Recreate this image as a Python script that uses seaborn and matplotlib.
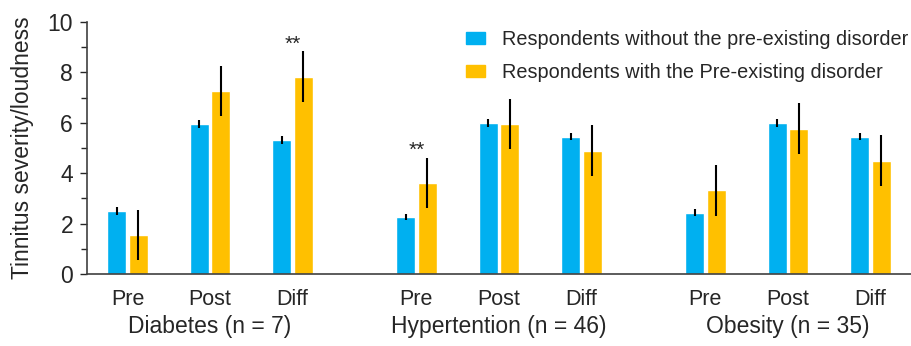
import numpy as np
import pandas as pd
import matplotlib
matplotlib.use("Agg")
import matplotlib.pyplot as plt
import seaborn as sns
from matplotlib.ticker import MultipleLocator
from matplotlib.transforms import blended_transform_factory

# values
groups = ["Diabetes (n = 7)", "Hypertention (n = 46)", "Obesity (n = 35)"]
phases = ["Pre", "Post", "Diff"]
series = ["Respondents without the pre-existing disorder",
          "Respondents with the Pre-existing disorder"]
without_vals = [2.50, 5.95, 5.32, 2.27, 6.00, 5.45, 2.43, 6.00, 5.45]
with_vals = [1.55, 7.26, 7.83, 3.60, 5.95, 4.90, 3.32, 5.77, 4.50]
without_err = [0.15, 0.17, 0.15, 0.12, 0.15, 0.15, 0.13, 0.15, 0.15]
with_err = [1.00, 1.00, 1.00, 1.00, 1.00, 1.00, 1.00, 1.00, 1.00]
stars = [(0, "Diff"), (1, "Pre")]  # (group index, phase)

colors = ["#00B0F0", "#FFC000"]
group_step = 3.5

rows = []
for gi, g in enumerate(groups):
    for pi, p in enumerate(phases):
        k = gi * 3 + pi
        pos = gi * group_step + pi
        rows.append(dict(pos=pos, group=g, phase=p, series=series[0],
                         value=without_vals[k], err=without_err[k]))
        rows.append(dict(pos=pos, group=g, phase=p, series=series[1],
                         value=with_vals[k], err=with_err[k]))
df = pd.DataFrame(rows)

sns.set_style("ticks")
plt.rcParams["font.family"] = ["Liberation Sans", "DejaVu Sans"]

fig = plt.figure(figsize=(9.11, 3.46), dpi=100)
ax = fig.add_axes([87 / 911, 1 - 274 / 346, 824 / 911, 252 / 346])

sns.barplot(data=df, x="pos", y="value", hue="series", hue_order=series,
            native_scale=True, width=0.52, gap=0.12, palette=colors,
            errorbar=None, saturation=1, ax=ax)

for cont, s in zip(ax.containers, series):
    sub = df[df["series"] == s].sort_values("pos")
    for bar, (_, r) in zip(cont, sub.iterrows()):
        ax.errorbar(bar.get_x() + bar.get_width() / 2, r["value"], yerr=r["err"],
                    fmt="none", ecolor="black", elinewidth=1.5, capsize=0)

ax.set_xlim(-0.49, 9.49)
ax.set_ylim(0, 10)
ticks = sorted(df["pos"].unique())
ax.set_xticks(ticks)
ax.set_xticklabels(phases * len(groups), fontsize=15.5)
ax.tick_params(axis="x", length=0, pad=11)
ax.yaxis.set_major_locator(MultipleLocator(2))
ax.yaxis.set_minor_locator(MultipleLocator(1))
ax.tick_params(axis="y", which="major", length=5, width=1, labelsize=16.5, pad=5)
ax.tick_params(axis="y", which="minor", length=4, width=1)
ax.set_xlabel("")
ax.set_ylabel("Tinnitus severity/loudness", fontsize=16.5, labelpad=10)
sns.despine(ax=ax)
for sp in ["left", "bottom"]:
    ax.spines[sp].set_color("#404040")
    ax.spines[sp].set_linewidth(1.2)

trans = blended_transform_factory(ax.transData, ax.transAxes)
for gi, g in enumerate(groups):
    ax.text(gi * group_step + 1, -0.21, g, transform=trans,
            ha="center", va="center", fontsize=16.5)

for gi, p in stars:
    k = gi * 3 + phases.index(p)
    top = max(without_vals[k] + without_err[k], with_vals[k] + with_err[k])
    ax.text(gi * group_step + phases.index(p), top + 0.3, "**",
            ha="center", va="center", fontsize=15)

ax.legend_.remove()
handles = [plt.Rectangle((0, 0), 1, 1, color=c) for c in colors]
fig.legend(handles, series, loc="upper left",
           bbox_to_anchor=(466 / 911, 1 - 30 / 346), frameon=False,
           fontsize=14.3, handlelength=0.95, handleheight=0.5,
           handletextpad=0.85, labelspacing=0.7, borderpad=0, borderaxespad=0)

fig.savefig("out.png", dpi=100)
